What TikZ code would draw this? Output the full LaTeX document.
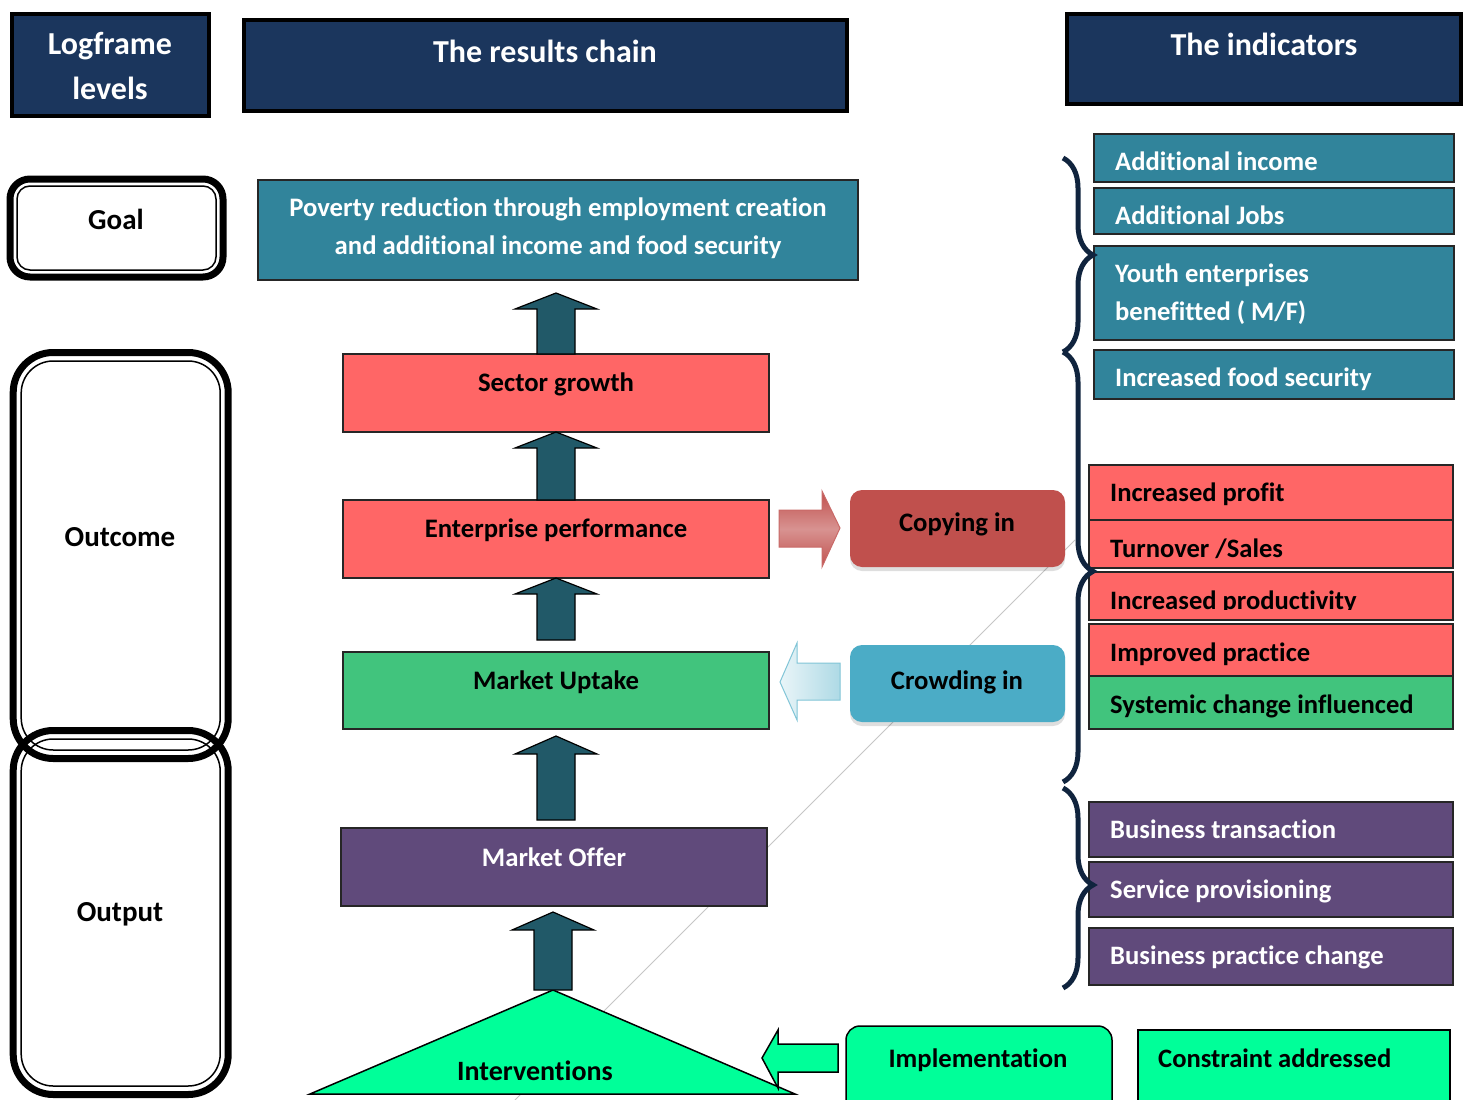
\documentclass[tikz,border=0pt]{standalone}
\usepackage{fontspec}
\setmainfont{Carlito}[Ligatures=NoCommon]
\usetikzlibrary{decorations.pathreplacing,shadows}

\definecolor{navy}{HTML}{1B365D}
\definecolor{tealbox}{HTML}{31849B}
\definecolor{salmon}{HTML}{FF6666}
\definecolor{leaf}{HTML}{41C47D}
\definecolor{plum}{HTML}{604A7B}
\definecolor{mint}{HTML}{00FF99}
\definecolor{arrowteal}{HTML}{215968}
\definecolor{brick}{HTML}{C0504D}
\definecolor{sky}{HTML}{4BACC6}
\definecolor{bracenavy}{HTML}{10243E}

% upward block arrow: centre x, tip y, head base y, bottom y
\newcommand{\upblock}[4]{%
  \draw[blockup] ({#1-19},#4) -- ({#1-19},#3) -- ({#1-41},#3) -- (#1,#2)
    -- ({#1+41},#3) -- ({#1+19},#3) -- ({#1+19},#4) -- cycle;}

\begin{document}
\begin{tikzpicture}[x=1pt,y=-1pt,
  hdrbox/.style={draw=black, line width=4.5, fill=navy, inner sep=0},
  hdrtxt/.style={text=white, font=\fontsize{32}{45}\selectfont\bfseries, align=center, inner sep=0},
  lvlouter/.style={draw=black, line width=7, inner sep=0},
  lvlinner/.style={draw=black, line width=1.5, inner sep=0},
  lvltxt/.style={font=\fontsize{29}{35}\selectfont\bfseries, inner sep=0},
  chainbox/.style={draw=black!85, line width=1.5, inner sep=0, minimum width=426, minimum height=78},
  chaintxt/.style={font=\fontsize{26.7}{38}\selectfont\bfseries, inner sep=0, text height=24pt, text depth=6pt},
  indbox/.style={draw=black!85, line width=2, inner sep=0, minimum width=364},
  indtxt/.style={font=\fontsize{26.6}{38}\selectfont\bfseries, inner sep=0, anchor=west, text height=24pt, text depth=6pt},
  blockup/.style={fill=arrowteal, draw=black, line width=1.2},
  bracestyle/.style={draw=bracenavy, line width=5, decorate, decoration={brace, amplitude=30}},
  softbox/.style={rounded corners=12, inner sep=0, minimum width=215, minimum height=77,
    drop shadow={shadow xshift=0pt, shadow yshift=-4pt, opacity=0.13, fill=black}},
]
\useasboundingbox (0,0) rectangle (1470,1100);
\fill[white] (0,0) rectangle (1470,1100);

% faint guide line behind the chain
\coordinate (g1) at (515,1100);
\coordinate (g2) at (1075,540);
\draw[gray!45, line width=1] (g1) -- (g2);

% ---------- headers ----------
\node[hdrbox, minimum width=197, minimum height=102] (hlevels) at (110.5,65) {};
\node[hdrtxt] (hlevelst) at (110,66) {Logframe\\levels};
\node[hdrbox, minimum width=603, minimum height=91] (hchain) at (545.5,65.5) {};
\node[hdrtxt] (hchaint) at (545,51) {The results chain};
\node[hdrbox, minimum width=394, minimum height=90] (hind) at (1264,59) {};
\node[hdrtxt] (hindt) at (1264,44) {The indicators};

% ---------- logframe levels ----------
\node[lvlouter, rounded corners=20, minimum width=213, minimum height=98] (goal) at (116.5,228) {};
\node[lvlinner, rounded corners=13, minimum width=199, minimum height=84] (goalin) at (116.5,228) {};
\node[lvltxt] (goalt) at (116,219) {Goal};

\node[lvlouter, rounded corners=40, minimum width=215, minimum height=406] (outcome) at (120.7,555.5) {};
\node[lvlinner, rounded corners=32, minimum width=199, minimum height=389] (outcomein) at (120.7,555.5) {};
\node[lvltxt] (outcomet) at (120,537) {Outcome};

\node[lvlouter, rounded corners=40, minimum width=215, minimum height=364] (output) at (120.7,912.5) {};
\node[lvlinner, rounded corners=32, minimum width=199, minimum height=347] (outputin) at (120.7,912.5) {};
\node[lvltxt] (outputt) at (120,914) {Output};

% ---------- results chain ----------
\node[chainbox, fill=tealbox, minimum width=600, minimum height=100] (poverty) at (558,230) {};
\node[chaintxt, text=white, align=center, text height=, text depth=] (povertyt) at (558,228.5)
  {Poverty reduction through employment creation\\and additional income and food security};

\node[chainbox, fill=salmon] (sector) at (556,393) {};
\node[chaintxt] (sectort) at (556,382) {Sector growth};

\node[chainbox, fill=salmon] (enterprise) at (556,539) {};
\node[chaintxt] (enterpriset) at (556,528) {Enterprise performance};

\node[chainbox, fill=leaf, minimum height=77] (uptake) at (556,690.5) {};
\node[chaintxt] (uptaket) at (556,680) {Market Uptake};

\node[chainbox, fill=plum] (offer) at (554,867) {};
\node[chaintxt, text=white] (offert) at (554,857) {Market Offer};

\coordinate (apex) at (553,990);
\coordinate (baseL) at (310,1094);
\coordinate (baseR) at (795,1094);
\draw[fill=mint, draw=black, line width=1.5] (apex) -- (baseR) -- (baseL) -- cycle;
\node[chaintxt, font=\fontsize{28}{34}\selectfont\bfseries] (intervt) at (535,1071) {Interventions};

% upward block arrows along the chain
\upblock{556}{293}{309}{354}
\upblock{556}{432}{448}{500}
\upblock{556}{578}{594}{640}
\upblock{556}{736}{754}{820}
\upblock{553}{912}{930}{990}

% ---------- spill-over boxes ----------
\node[softbox, fill=brick] (copy) at (957.5,528.5) {};
\node[chaintxt] (copyt) at (957,522) {Copying in};
\node[softbox, fill=sky] (crowd) at (957.5,683.5) {};
\node[chaintxt] (crowdt) at (957,680) {Crowding in};

\shade[top color=brick, bottom color=brick, middle color=brick!62, draw=brick!85, line width=1]
  (779,510) -- (822,510) -- (822,491) -- (840,528) -- (822,567) -- (822,547) -- (779,547) -- cycle;
\shade[left color=sky!12, right color=sky!45, draw=sky!70, line width=1]
  (840,663) -- (797,663) -- (797,643) -- (780,682) -- (797,720) -- (797,700) -- (840,700) -- cycle;

% ---------- implementation ----------
\node[draw=black, line width=1.5, fill=mint, rounded corners=14, inner sep=0,
  minimum width=266, minimum height=88] (impl) at (979,1070) {};
\node[chaintxt] (implt) at (978,1058) {Implementation};
\draw[fill=mint, draw=black, line width=1.5]
  (838,1044) -- (778,1044) -- (778,1030) -- (762,1058) -- (778,1088) -- (778,1072) -- (838,1072) -- cycle;

\node[draw=black, line width=2, fill=mint, inner sep=0, minimum width=312, minimum height=84] (constr) at (1294,1072) {};
\node[indtxt] (constrt) at (1158,1058) {Constraint addressed};

% ---------- indicators ----------
\node[indbox, fill=tealbox, minimum width=360, minimum height=48] (ai) at (1274,158) {};
\node[indtxt, text=white] (ait) at (1115,161) {Additional income};
\node[indbox, fill=tealbox, minimum width=360, minimum height=46] (aj) at (1274,211) {};
\node[indtxt, text=white] (ajt) at (1115,215) {Additional Jobs};
\node[indbox, fill=tealbox, minimum width=360, minimum height=94] (youth) at (1274,293) {};
\node[indtxt, text=white] (youtha) at (1115,273) {Youth enterprises};
\node[indtxt, text=white] (youthb) at (1115,311) {benefitted ( M/F)};
\node[indbox, fill=tealbox, minimum width=360, minimum height=49] (food) at (1274,374.5) {};
\node[indtxt, text=white] (foodt) at (1115,377) {Increased food security};

\node[indbox, fill=salmon, minimum height=55] (profit) at (1271,492.5) {};
\node[indtxt] (profitt) at (1110,492) {Increased profit};
\node[indbox, fill=salmon, minimum height=48] (turn) at (1271,544) {};
\node[indtxt] (turnt) at (1110,548) {Turnover /Sales};
\node[indbox, fill=salmon, minimum height=48] (prod) at (1271,596) {};
\begin{scope}
  \clip (1089,572) rectangle (1453,609);
  \node[indtxt] (prodt) at (1110,600) {Increased productivity};
\end{scope}
\node[indbox, fill=salmon, minimum height=52] (pract) at (1271,650) {};
\node[indtxt] (practt) at (1110,652) {Improved practice};
\node[indbox, fill=leaf, minimum height=53] (sys) at (1271,702.5) {};
\node[indtxt] (syst) at (1110,704) {Systemic change influenced};

\node[indbox, fill=plum, minimum height=55] (bt) at (1271,829.5) {};
\node[indtxt, text=white] (btt) at (1110,829) {Business transaction};
\node[indbox, fill=plum, minimum height=55] (sp) at (1271,889.5) {};
\node[indtxt, text=white] (spt) at (1110,889) {Service provisioning};
\node[indbox, fill=plum, minimum height=57] (bpc) at (1271,956.5) {};
\node[indtxt, text=white] (bpct) at (1110,955) {Business practice change};

% ---------- braces ----------
\coordinate (b1a) at (1063,158);
\coordinate (b1b) at (1063,352);
\coordinate (b2a) at (1063,352);
\coordinate (b2b) at (1063,782);
\coordinate (b3a) at (1063,788);
\coordinate (b3b) at (1063,988);
\draw[bracestyle] (b1a) -- (b1b);
\draw[bracestyle, decoration={brace, amplitude=30, aspect=0.51}] (b2a) -- (b2b);
\draw[bracestyle, decoration={brace, amplitude=30, aspect=0.485}] (b3a) -- (b3b);

\end{tikzpicture}
\end{document}
